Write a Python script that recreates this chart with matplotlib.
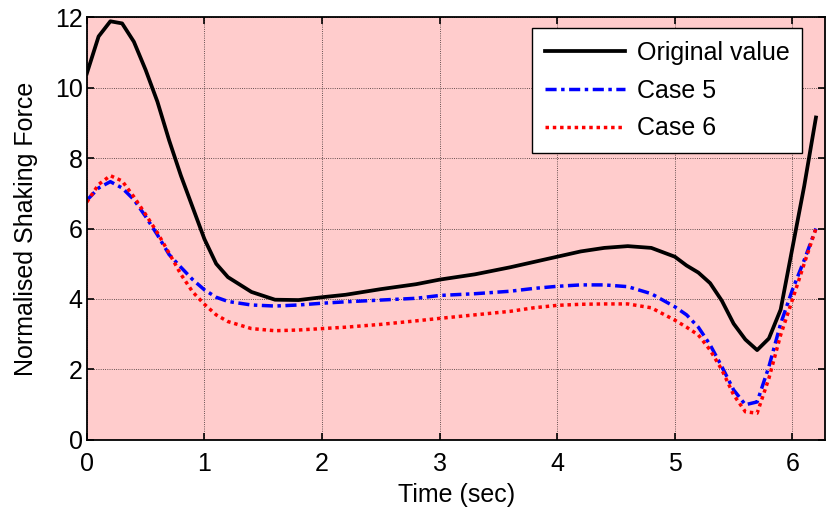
import matplotlib
matplotlib.use('Agg')
import matplotlib.pyplot as plt

# time samples (sec)
time = [0.0, 0.1, 0.2, 0.3, 0.4, 0.5, 0.6, 0.7, 0.8, 0.9, 1.0, 1.1, 1.2, 1.4, 1.6,
        1.8, 2.0, 2.2, 2.5, 2.8, 3.0, 3.3, 3.6, 3.8, 4.0, 4.2, 4.4, 4.6, 4.8, 5.0,
        5.1, 5.2, 5.3, 5.4, 5.5, 5.6, 5.7, 5.8, 5.9, 6.0, 6.1, 6.2]

original = [10.4, 11.45, 11.88, 11.82, 11.3, 10.5, 9.6, 8.5, 7.5, 6.6, 5.7, 5.0, 4.62, 4.2, 3.98,
            3.97, 4.05, 4.12, 4.28, 4.42, 4.55, 4.7, 4.9, 5.05, 5.2, 5.35, 5.45, 5.5, 5.45, 5.2,
            4.95, 4.75, 4.45, 3.95, 3.3, 2.85, 2.55, 2.88, 3.7, 5.45, 7.2, 9.15]

case5 = [6.8, 7.15, 7.33, 7.15, 6.82, 6.34, 5.82, 5.26, 4.9, 4.55, 4.26, 4.05, 3.93, 3.83, 3.8,
         3.83, 3.88, 3.92, 3.97, 4.02, 4.1, 4.15, 4.22, 4.3, 4.36, 4.4, 4.4, 4.35, 4.15, 3.78,
         3.55, 3.2, 2.7, 2.08, 1.42, 1.0, 1.08, 2.08, 3.3, 4.26, 5.1, 6.0]

case6 = [6.75, 7.25, 7.5, 7.35, 6.9, 6.4, 5.88, 5.3, 4.7, 4.2, 3.85, 3.55, 3.36, 3.16, 3.1,
         3.12, 3.16, 3.2, 3.28, 3.38, 3.45, 3.55, 3.65, 3.75, 3.82, 3.85, 3.86, 3.86, 3.75, 3.4,
         3.2, 2.98, 2.55, 1.99, 1.28, 0.8, 0.76, 1.75, 2.98, 3.98, 5.0, 6.0]

plt.rcParams['font.family'] = ['Liberation Sans', 'DejaVu Sans']

fig = plt.figure(figsize=(8.27, 5.17), dpi=100)
ax = fig.add_axes([0.105, 0.149, 0.893, 0.818])
ax.set_facecolor('#ffcccc')

ax.plot(time, original, color='black', lw=2.7, label='Original value')
ax.plot(time, case5, color='blue', lw=2.5, linestyle=(0, (3.2, 1.3, 1, 1.3)), label='Case 5')
ax.plot(time, case6, color='red', lw=2.5, linestyle=(0, (1, 1.1)), label='Case 6')

ax.set_xlim(0, 6.28)
ax.set_ylim(0, 12)
ax.set_xticks([0, 1, 2, 3, 4, 5, 6])
ax.set_yticks([0, 2, 4, 6, 8, 10, 12])
ax.grid(True, color='black', linestyle=':', lw=0.6, alpha=0.8)
ax.tick_params(direction='in', top=True, right=True, length=5, width=1.2,
               labelsize=18)
ax.tick_params(axis='x', pad=9)
ax.tick_params(axis='y', pad=3)
for s in ax.spines.values():
    s.set_linewidth(1.3)

ax.set_xlabel('Time (sec)', fontsize=18, labelpad=5)
ax.set_ylabel('Normalised Shaking Force', fontsize=18, labelpad=12)

leg = ax.legend(loc='upper right', bbox_to_anchor=(0.969, 0.973), borderaxespad=0,
                fontsize=18, fancybox=False, framealpha=1, edgecolor='black',
                handlelength=3.2, borderpad=0.5, labelspacing=0.55, handletextpad=0.5)
leg.get_frame().set_linewidth(1.0)

fig.savefig('out.png', dpi=100)
